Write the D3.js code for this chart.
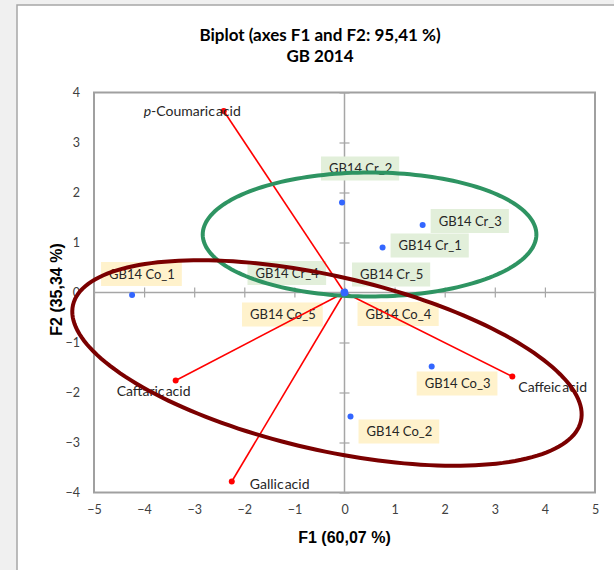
<!DOCTYPE html>
<html>
<head>
<meta charset="utf-8">
<script src="https://cdn.jsdelivr.net/npm/d3@7"></script>
<style>
  html, body { margin: 0; padding: 0; background: #f0f0f0; }
  svg { display: block; }
</style>
</head>
<body>
<svg id="chart" width="614" height="570"></svg>
<script>
// Observations (factor scores on F1 / F2)
const obsNames = ["GB14 Co_1", "GB14 Cr_2", "GB14 Cr_3", "GB14 Cr_1", "GB14 Cr_5",
                  "GB14 Cr_4", "GB14 Co_4", "GB14 Co_5", "GB14 Co_3", "GB14 Co_2"];
const obsF1 = [-4.24, -0.05, 1.56, 0.76, 0.01, -0.02, 0.02, -0.01, 1.74, 0.12];
const obsF2 = [-0.05, 1.80, 1.35, 0.90, 0.02, 0.01, -0.01, -0.02, -1.48, -2.48];
const obsGroup = ["Co", "Cr", "Cr", "Cr", "Cr", "Cr", "Co", "Co", "Co", "Co"];

// Variables (loadings on F1 / F2)
const varNames = ["p-Coumaric acid", "Caftaric acid", "Gallic acid", "Caffeic acid"];
const varF1 = [-2.41, -3.37, -2.25, 3.35];
const varF2 = [3.63, -1.76, -3.78, -1.68];

// Group ellipses (centre, semi-axes and rotation in F1/F2 units)
const ellipseNames = ["Cr", "Co"];
const ellipseCx = [0.50, -0.35];
const ellipseCy = [1.16, -1.41];
const ellipseA = [3.33, 5.20];
const ellipseB = [1.24, 1.74];
const ellipseAngle = [0, -12.9];

const xTicks = [-5, -4, -3, -2, -1, 0, 1, 2, 3, 4, 5];
const yTicks = [-4, -3, -2, -1, 0, 1, 2, 3, 4];

const titleLines = ["Biplot (axes F1 and F2: 95,41 %)", "GB 2014"];
const xTitle = "F1 (60,07 %)";
const yTitle = "F2 (35,34 %)";

// ---- layout & styles ----
const plot = { left: 94, right: 595, top: 92.5, bottom: 492.5 };
const colors = {
  Cr: { box: "#e2efda", ring: "#2e9462" },
  Co: { box: "#fff2cc", ring: "#7b0000" }
};
const obsLabelOffset = {
  "GB14 Co_1": [-31, -33], "GB14 Cr_2": [-21, -46], "GB14 Cr_3": [8, -16],
  "GB14 Cr_1": [8, -14], "GB14 Cr_5": [7, -29], "GB14 Cr_4": [-96, -31],
  "GB14 Co_4": [12, 9], "GB14 Co_5": [-102, 9], "GB14 Co_3": [-15, 5],
  "GB14 Co_2": [8, 3]
};
const varLabelOffset = {
  "p-Coumaric acid": [17, 0, "end"], "Caftaric acid": [-59, 11, "start"],
  "Gallic acid": [18, 3, "start"], "Caffeic acid": [6, 11, "start"]
};

const svg = d3.select("#chart");

// chart panel
svg.append("rect")
  .attr("x", 17).attr("y", 5).attr("width", 620).attr("height", 600)
  .attr("fill", "#ffffff").attr("stroke", "#a6a6a6").attr("stroke-width", 1.5);

const x = d3.scaleLinear().domain([-5, 5]).range([plot.left, plot.right]);
const y = d3.scaleLinear().domain([-4, 4]).range([plot.bottom, plot.top]);

// title
svg.append("g").selectAll("text").data(titleLines).join("text")
  .attr("x", 320).attr("y", (d, i) => 41 + i * 21)
  .attr("text-anchor", "middle")
  .attr("font-family", "Lato, 'Open Sans', sans-serif")
  .attr("font-weight", "bold").attr("font-size", 17)
  .attr("fill", "#000")
  .text(d => d);

// frame
svg.append("rect")
  .attr("x", plot.left).attr("y", plot.top)
  .attr("width", plot.right - plot.left).attr("height", plot.bottom - plot.top)
  .attr("fill", "none").attr("stroke", "#a0a0a0").attr("stroke-width", 2);

// axis lines through the origin with crossing ticks
const axisColor = "#a6a6a6";
const xCross = svg.append("g")
  .attr("transform", `translate(0,${y(0) - 5})`)
  .call(d3.axisBottom(x).tickValues(xTicks).tickSize(10).tickFormat(""));
xCross.select(".domain").remove();
xCross.selectAll("line").attr("stroke", axisColor).attr("stroke-width", 1.2);
svg.append("line")
  .attr("x1", x(-5)).attr("x2", x(5)).attr("y1", y(0)).attr("y2", y(0))
  .attr("stroke", axisColor).attr("stroke-width", 1.5);

const yCross = svg.append("g")
  .attr("transform", `translate(${x(0) - 5},0)`)
  .call(d3.axisRight(y).tickValues(yTicks).tickSize(10).tickFormat(""));
yCross.select(".domain").remove();
yCross.selectAll("line").attr("stroke", axisColor).attr("stroke-width", 1.2);
svg.append("line")
  .attr("x1", x(0)).attr("x2", x(0)).attr("y1", y(-4)).attr("y2", y(4))
  .attr("stroke", axisColor).attr("stroke-width", 1.5);

// tick labels on the frame
const tickFont = "Lato, 'Open Sans', sans-serif";
const xLab = svg.append("g")
  .attr("transform", `translate(0,${plot.bottom + 10})`)
  .call(d3.axisBottom(x).tickValues(xTicks).tickSize(0).tickFormat(d3.format("d")));
xLab.select(".domain").remove();
xLab.selectAll("text").attr("font-family", tickFont).attr("font-size", 12.5).attr("fill", "#404040");

const yLab = svg.append("g")
  .attr("transform", `translate(${plot.left - 11},0)`)
  .call(d3.axisLeft(y).tickValues(yTicks).tickSize(0).tickFormat(d3.format("d")));
yLab.select(".domain").remove();
yLab.selectAll("text").attr("font-family", tickFont).attr("font-size", 12.5).attr("fill", "#404040");

// axis titles
svg.append("text")
  .attr("x", x(0)).attr("y", 543).attr("text-anchor", "middle")
  .attr("font-family", "'Liberation Sans', Arial, sans-serif")
  .attr("font-weight", "bold").attr("font-size", 16).attr("fill", "#000")
  .text(xTitle);
svg.append("text")
  .attr("transform", `translate(62,${y(0) - 3}) rotate(-90)`)
  .attr("text-anchor", "middle")
  .attr("font-family", "'Liberation Sans', Arial, sans-serif")
  .attr("font-weight", "bold").attr("font-size", 16).attr("fill", "#000")
  .text(yTitle);

// observation labels with coloured boxes
const labelFont = "Lato, 'Open Sans', sans-serif";
const obs = obsNames.map((n, i) => ({ name: n, f1: obsF1[i], f2: obsF2[i], group: obsGroup[i] }));
const obsLabels = svg.append("g").selectAll("g").data(obs).join("g")
  .attr("transform", d => {
    const o = obsLabelOffset[d.name];
    return `translate(${x(d.f1) + o[0]},${y(d.f2) + o[1]})`;
  });
obsLabels.append("text")
  .attr("x", 8).attr("y", 12).attr("dy", "0.35em")
  .attr("font-family", labelFont).attr("font-size", 13).attr("fill", "#262626")
  .text(d => d.name);
obsLabels.each(function () {
  const g = d3.select(this);
  const bb = g.select("text").node().getBBox();
  g.insert("rect", "text")
    .attr("x", 0).attr("y", 0).attr("width", bb.width + 15).attr("height", 24)
    .attr("fill", d => colors[d.group].box);
});

// variable vectors
const vars = varNames.map((n, i) => ({ name: n, f1: varF1[i], f2: varF2[i] }));
svg.append("g").selectAll("line").data(vars).join("line")
  .attr("x1", x(0)).attr("y1", y(0))
  .attr("x2", d => x(d.f1)).attr("y2", d => y(d.f2))
  .attr("stroke", "#ff0000").attr("stroke-width", 1.6);
svg.append("g").selectAll("circle").data(vars).join("circle")
  .attr("cx", d => x(d.f1)).attr("cy", d => y(d.f2)).attr("r", 3)
  .attr("fill", "#ff0000");
const varText = svg.append("g").selectAll("text").data(vars).join("text")
  .attr("x", d => x(d.f1) + varLabelOffset[d.name][0])
  .attr("y", d => y(d.f2) + varLabelOffset[d.name][1])
  .attr("dy", "0.35em")
  .attr("text-anchor", d => varLabelOffset[d.name][2])
  .attr("font-family", labelFont).attr("font-size", 14).attr("fill", "#262626")
  .attr("word-spacing", -2.5);
varText.each(function (d) {
  const t = d3.select(this);
  if (d.name.startsWith("p-")) {
    t.append("tspan").attr("font-style", "italic").text("p");
    t.append("tspan").text(d.name.slice(1));
  } else {
    t.text(d.name);
  }
});

// group ellipses
const ellipses = ellipseNames.map((n, i) => ({
  name: n, cx: ellipseCx[i], cy: ellipseCy[i], a: ellipseA[i], b: ellipseB[i], ang: ellipseAngle[i]
}));
const ring = d3.line().curve(d3.curveLinearClosed);
svg.append("g").selectAll("path").data(ellipses).join("path")
  .attr("d", e => {
    const phi = e.ang * Math.PI / 180;
    const pts = d3.range(0, 360, 2).map(deg => {
      const t = deg * Math.PI / 180;
      const u = e.cx + e.a * Math.cos(t) * Math.cos(phi) - e.b * Math.sin(t) * Math.sin(phi);
      const v = e.cy + e.a * Math.cos(t) * Math.sin(phi) + e.b * Math.sin(t) * Math.cos(phi);
      return [x(u), y(v)];
    });
    return ring(pts);
  })
  .attr("fill", "none")
  .attr("stroke", e => colors[e.name].ring)
  .attr("stroke-width", 4);

// observation points
svg.append("g").selectAll("circle").data(obs).join("circle")
  .attr("cx", d => x(d.f1)).attr("cy", d => y(d.f2)).attr("r", 3)
  .attr("fill", "#3366ff");
</script>
</body>
</html>
